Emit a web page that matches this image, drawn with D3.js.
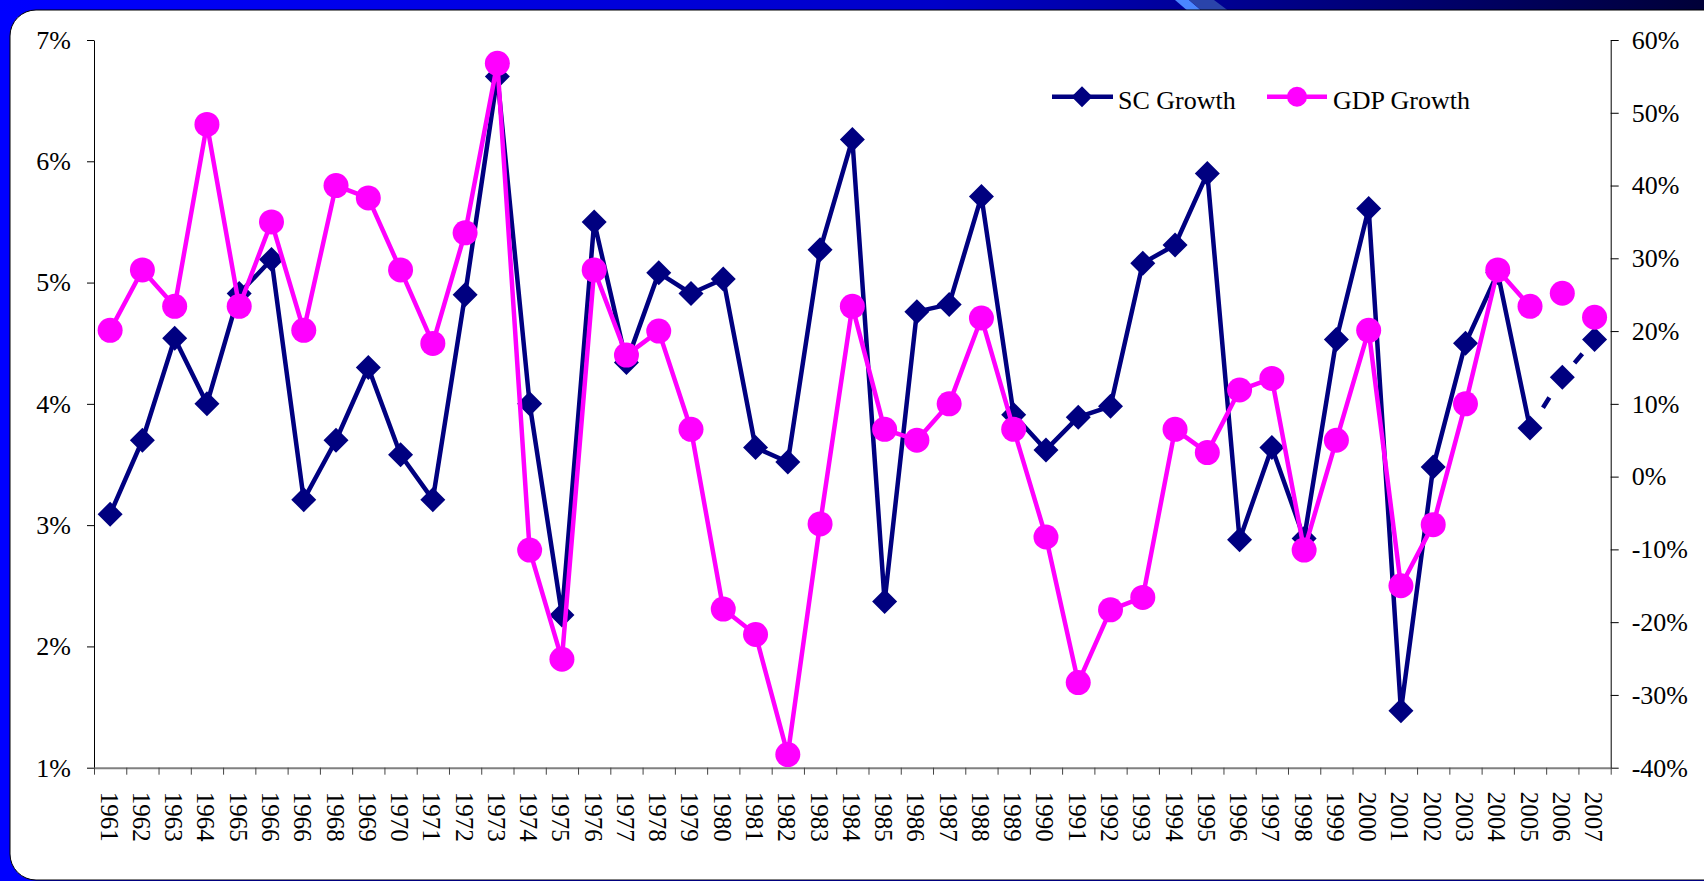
<!DOCTYPE html>
<html><head><meta charset="utf-8">
<script src="https://cdn.jsdelivr.net/npm/d3@7"></script>
<style>html,body{margin:0;padding:0;background:#0000ff;overflow:hidden}svg{display:block}</style>
</head><body><svg id="c" width="1704" height="881"></svg>
<script>
// ---- data ----
const years = ["1961","1962","1963","1964","1965","1966","1966","1968","1969","1970",
  "1971","1972","1973","1974","1975","1976","1977","1978","1979","1980",
  "1981","1982","1983","1984","1985","1986","1987","1988","1989","1990",
  "1991","1992","1993","1994","1995","1996","1997","1998","1999","2000",
  "2001","2002","2003","2004","2005","2006","2007"];
const scGrowth = [3.09,3.70,4.54,4.00,4.91,5.19,3.21,3.70,4.30,3.58,
  3.21,4.90,6.70,4.00,2.26,5.50,4.34,5.08,4.91,5.03,
  3.64,3.52,5.27,6.18,2.37,4.76,4.82,5.71,3.91,3.62,
  3.89,3.98,5.16,5.31,5.90,2.88,3.64,2.89,4.53,5.61,
  1.47,3.48,4.50,5.08,3.80,4.22,4.53];
const gdpGrowth = [20.1,28.4,23.4,48.4,23.4,35.0,20.1,40.0,38.3,28.4,
  18.3,33.5,56.8,-10.1,-25.1,28.4,16.7,20.0,6.5,-18.2,
  -21.7,-38.2,-6.5,23.4,6.5,5.0,10.0,21.8,6.5,-8.3,
  -28.3,-18.3,-16.6,6.5,3.3,11.9,13.5,-10.1,5.0,20.1,
  -15.0,-6.6,10.0,28.4,23.4,25.2,21.9];
const leftTicks = [1,2,3,4,5,6,7];
const rightTicks = [-40,-30,-20,-10,0,10,20,30,40,50,60];
const seriesNames = ["SC Growth","GDP Growth"];
const solidEnd = 44; // last index joined by a solid line (2005)

// ---- setup ----
const W = 1704, H = 881;
const svg = d3.select("#c");
const font = '"Liberation Serif","Times New Roman",Times,serif';
const navy = "#000080", magenta = "#ff00ff";

// frame / background
const defs = svg.append("defs");
const lg = defs.append("linearGradient").attr("id","topg").attr("x1",0).attr("x2",1).attr("y1",0).attr("y2",0);
lg.append("stop").attr("offset","0").attr("stop-color","#0000ff");
lg.append("stop").attr("offset","0.55").attr("stop-color","#0000c8");
lg.append("stop").attr("offset","1").attr("stop-color","#000038");
svg.append("rect").attr("width",W).attr("height",H).attr("fill","#0000ff");
svg.append("rect").attr("width",W).attr("height",14).attr("fill","url(#topg)");
svg.append("polygon").attr("points","1175,0 1189,0 1203,12 1189,12").attr("fill","#4a86ff");
svg.append("polygon").attr("points","1189,0 1214,0 1230,12 1203,12").attr("fill","#2a44aa");
svg.append("rect").attr("x",10).attr("y",10).attr("width",W+30).attr("height",870)
  .attr("rx",26).attr("fill","#fff").attr("stroke","#000").attr("stroke-width",1);

// ---- scales ----
const L = 94, R = 1610.7, T = 40, B = 767.7;
const idx = d3.range(years.length);
const x = d3.scaleBand().domain(idx).range([L, R]).padding(0);
const xb = d3.scaleLinear().domain([0, years.length]).range([L, R]);
const yL = d3.scaleLinear().domain([1, 7]).range([B, T]);
const yR = d3.scaleLinear().domain([-40, 60]).range([B, T]);
const cx = i => x(i) + x.bandwidth() / 2;

// ---- axes ----
const gL = svg.append("g").attr("transform", `translate(${L},0)`)
  .call(d3.axisLeft(yL).tickValues(leftTicks).tickSize(7).tickSizeOuter(0).tickPadding(16).tickFormat(d => d + "%"));
const gR = svg.append("g").attr("transform", `translate(${R},0)`)
  .call(d3.axisRight(yR).tickValues(rightTicks).tickSize(8).tickSizeOuter(0).tickPadding(13).tickFormat(d => d + "%"));
[gL, gR].forEach(g => {
  g.selectAll("text").attr("font-family", font).attr("font-size", 26).attr("fill", "#000");
  g.select(".domain").attr("stroke", "#000").attr("stroke-width", 1);
  g.selectAll(".tick line").attr("stroke", "#000");
});
const gX = svg.append("g").attr("transform", `translate(0,${B})`)
  .call(d3.axisBottom(xb).tickValues(d3.range(years.length + 1)).tickSize(7).tickSizeOuter(0).tickFormat(""));
gX.select(".domain").attr("stroke", "#808080").attr("stroke-width", 2);
gX.selectAll(".tick line").attr("stroke", "#444");

svg.append("g").selectAll("text").data(idx).join("text")
  .attr("transform", i => `translate(${cx(i) - 1},${B + 24}) rotate(90)`)
  .attr("dominant-baseline", "central")
  .attr("font-family", font).attr("font-size", 25).attr("fill", "#000")
  .text(i => years[i]);

// ---- series ----
const diamond = h => `M0,${-h}L${h},0L0,${h}L${-h},0Z`;
const scPts = idx.map(i => ({i, v: scGrowth[i]}));
const gdpPts = idx.map(i => ({i, v: gdpGrowth[i]}));
const lineL = d3.line().x(d => cx(d.i)).y(d => yL(d.v));
const lineR = d3.line().x(d => cx(d.i)).y(d => yR(d.v));

// SC Growth
svg.append("path").datum(scPts.slice(0, solidEnd + 1)).attr("d", lineL)
  .attr("fill", "none").attr("stroke", navy).attr("stroke-width", 4.5).attr("stroke-linejoin", "round");
for (let k = solidEnd; k < years.length - 1; k++) {
  const p = svg.append("path").datum([scPts[k], scPts[k + 1]]).attr("d", lineL)
    .attr("fill", "none").attr("stroke", navy).attr("stroke-width", 4.5);
  const len = p.node().getTotalLength();
  p.attr("stroke-dasharray", `0,${len / 2 - 6},12,${len}`);
}
svg.append("g").selectAll("path").data(scPts).join("path")
  .attr("transform", d => `translate(${cx(d.i)},${yL(d.v)})`)
  .attr("d", diamond(12.5)).attr("fill", navy);

// GDP Growth
svg.append("path").datum(gdpPts.slice(0, solidEnd + 1)).attr("d", lineR)
  .attr("fill", "none").attr("stroke", magenta).attr("stroke-width", 4.5).attr("stroke-linejoin", "round");
svg.append("g").selectAll("circle").data(gdpPts).join("circle")
  .attr("cx", d => cx(d.i)).attr("cy", d => yR(d.v)).attr("r", 12.5).attr("fill", magenta);

// ---- legend ----
const lgd = svg.append("g");
lgd.append("line").attr("x1", 1052).attr("x2", 1113).attr("y1", 96.7).attr("y2", 96.7)
  .attr("stroke", navy).attr("stroke-width", 4.5);
lgd.append("path").attr("transform", "translate(1082,96.7)").attr("d", diamond(10.5)).attr("fill", navy);
lgd.append("text").attr("x", 1118).attr("y", 109).attr("font-family", font).attr("font-size", 26).text(seriesNames[0]);
lgd.append("line").attr("x1", 1267).attr("x2", 1327).attr("y1", 96.7).attr("y2", 96.7)
  .attr("stroke", magenta).attr("stroke-width", 4.5);
lgd.append("circle").attr("cx", 1297).attr("cy", 96.7).attr("r", 10).attr("fill", magenta);
lgd.append("text").attr("x", 1333).attr("y", 109).attr("font-family", font).attr("font-size", 26).text(seriesNames[1]);
</script></body></html>
